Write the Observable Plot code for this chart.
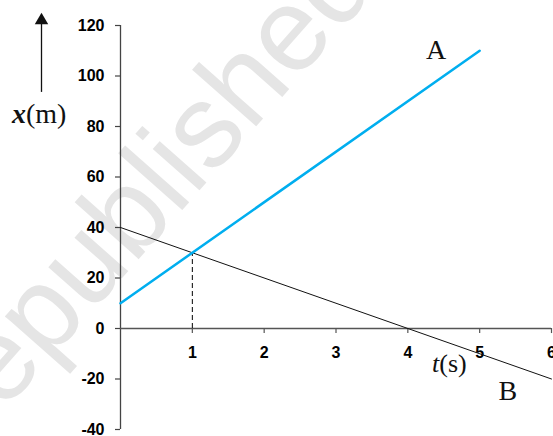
<!DOCTYPE html>
<html>
<head>
<meta charset="utf-8">
<script src="https://cdn.jsdelivr.net/npm/d3@7"></script>
<script src="https://cdn.jsdelivr.net/npm/@observablehq/plot@0.6"></script>
<style>
  html, body { margin: 0; padding: 0; background: #fff; }
  #chart { width: 553px; height: 436px; overflow: hidden; }
</style>
</head>
<body>
<div id="chart"></div>
<script>
// Data
const tA = [0, 5];
const posA = [10, 110];
const tB = [0, 6];
const posB = [40, -20];
const meetT = [1];
const meetX = [30];
const xTicks = [1, 2, 3, 4, 5, 6];
const yTicks = [-40, -20, 0, 20, 40, 60, 80, 100, 120];

const lineA = tA.map((t, i) => ({t, x: posA[i]}));
const lineB = tB.map((t, i) => ({t, x: posB[i]}));
const guide = meetT.map((t, i) => ({t, x: meetX[i]}));

const sans = "Liberation Sans, Arial, sans-serif";
const serif = "Liberation Serif, Times New Roman, serif";

const plot = Plot.plot({
  width: 553,
  height: 436,
  marginLeft: 120,
  marginRight: 2,
  marginTop: 25,
  marginBottom: 7,
  style: {background: "transparent", overflow: "visible"},
  x: {type: "linear", domain: [0, 6], axis: null},
  y: {type: "linear", domain: [-40, 120], axis: null},
  marks: [
    // y axis line + ticks + labels
    Plot.ruleX([0], {y1: -40, y2: 120, stroke: "#444", strokeWidth: 1.3}),
    Plot.ruleY(yTicks, {y: d => d, x1: -0.07, x2: 0, stroke: "#444", strokeWidth: 1.2}),
    Plot.text(yTicks, {x: 0, y: d => d, dx: -16, text: d => String(d), textAnchor: "end", fontSize: 16, fontWeight: "bold", fontFamily: sans, fill: "#000"}),
    // x axis at y = 0
    Plot.ruleY([0], {x1: 0, x2: 6, stroke: "#555", strokeWidth: 1.3}),
    Plot.ruleX(xTicks, {x: d => d, y1: 0, y2: -2, stroke: "#555", strokeWidth: 1.2}),
    Plot.text(xTicks, {x: d => d, y: 0, dy: 24, text: d => String(d), fontSize: 16, fontWeight: "bold", fontFamily: sans, fill: "#000"}),
    // dashed guide
    Plot.ruleX(guide, {x: "t", y1: 0, y2: "x", stroke: "#000", strokeWidth: 1, strokeDasharray: "5,3"}),
    // lines
    Plot.line(lineB, {x: "t", y: "x", stroke: "#111", strokeWidth: 1}),
    Plot.line(lineA, {x: "t", y: "x", stroke: "#00aeef", strokeWidth: 2.5}),
    // y arrow
    Plot.ruleX([0], {x: 0, y1: 93.5, y2: 121, dx: -79, stroke: "#111", strokeWidth: 1.3, clip: false}),
    Plot.dot([0], {x: 0, y: 122, dx: -79, symbol: "triangle", r: 5, fill: "#111", stroke: null})
  ]
});
document.getElementById("chart").appendChild(plot);

const svg = d3.select(plot);
const xs = plot.scale("x"), ys = plot.scale("y");

// watermark behind everything
svg.insert("text", ":first-child")
  .attr("transform", "translate(-23,442) rotate(-48.5)")
  .attr("text-anchor", "start")
  .attr("font-family", sans)
  .attr("font-size", 118)
  .attr("fill", "#e5e5e5")
  .text("republished");

// series labels
svg.append("text").attr("x", xs.apply(4.4)).attr("y", 59).attr("text-anchor", "middle")
  .attr("font-family", serif).attr("font-size", 28).attr("fill", "#111").text("A");
svg.append("text").attr("x", xs.apply(5.4)).attr("y", 400).attr("text-anchor", "middle")
  .attr("font-family", serif).attr("font-size", 28).attr("fill", "#111").text("B");

// axis labels
const lbl1 = svg.append("text").attr("x", 12).attr("y", 123).attr("text-anchor", "start").attr("font-size", 28).attr("fill", "#111");
lbl1.append("tspan").attr("font-family", serif).attr("font-style", "italic").attr("font-weight", "bold").text("x");
lbl1.append("tspan").attr("font-family", serif).text("(m)");
const lbl2 = svg.append("text").attr("x", 432).attr("y", 372).attr("text-anchor", "start").attr("font-size", 26).attr("fill", "#111");
lbl2.append("tspan").attr("font-family", serif).attr("font-style", "italic").text("t");
lbl2.append("tspan").attr("font-family", serif).text("(s)");
</script>
</body>
</html>
